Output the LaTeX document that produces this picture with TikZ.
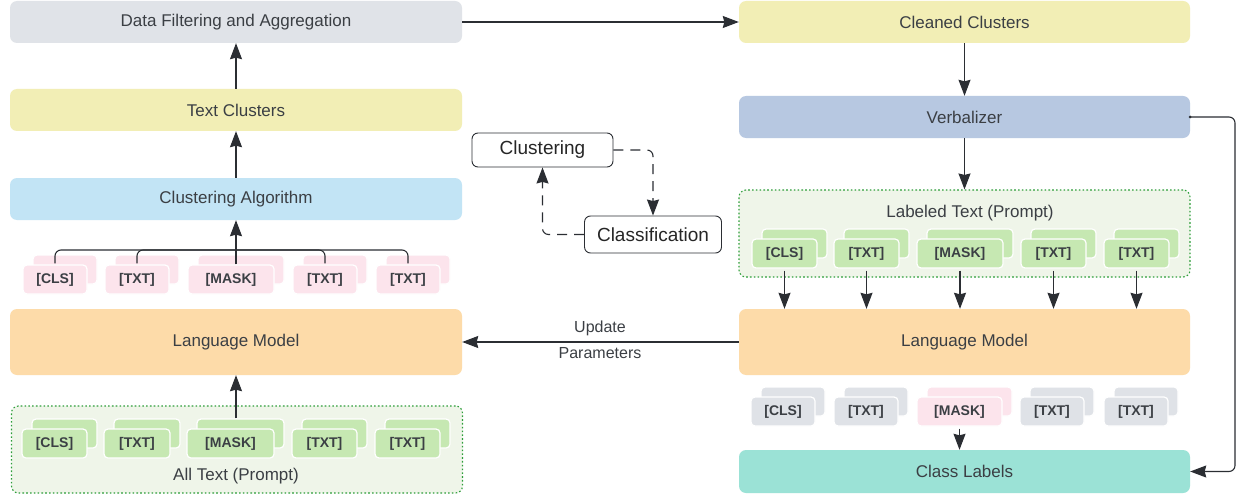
\documentclass[tikz,border=0pt]{standalone}
\usepackage{fontspec}
\setmainfont{Liberation Sans}
\usetikzlibrary{arrows.meta,calc}
\definecolor{txtc}{HTML}{3B3F44}
\definecolor{linec}{HTML}{2B2E33}
\definecolor{grayf}{HTML}{E0E3E8}
\definecolor{yellowf}{HTML}{F2EEB5}
\definecolor{bluef}{HTML}{B7C8E1}
\definecolor{lbluef}{HTML}{C2E4F5}
\definecolor{orangef}{HTML}{FDDBA9}
\definecolor{tealf}{HTML}{9BE2D6}
\definecolor{contf}{HTML}{EFF5E9}
\definecolor{contb}{HTML}{2E9E3A}
\definecolor{greenf}{HTML}{C6E8B2}
\definecolor{pinkf}{HTML}{FCE4EC}
\definecolor{tgrayf}{HTML}{DFE2E7}
\newcommand\tokpair[6]{%
  \node[tokb, fill=#5, minimum width=#4pt] (#1b) at ({#2+10+#4/2},{#3-10+14.5}) {};
  \node[tokf, fill=#5, minimum width=#4pt] (#1) at ({#2+#4/2},{#3+14.5}) {#6};
}
\begin{document}
\begin{tikzpicture}[x=1pt,y=-1pt,
  box/.style={rounded corners=7pt, inner sep=0pt, minimum width=452pt, minimum height=42pt,
    text=txtc, font=\fontsize{17}{20}\selectfont},
  cont/.style={rounded corners=7pt, inner sep=0pt, minimum width=451pt, minimum height=87pt,
    fill=contf, draw=contb, line width=1.1pt, dash pattern=on 1.6pt off 2.2pt},
  tokb/.style={rounded corners=4pt, inner sep=0pt, minimum height=29pt, draw=white, line width=1.2pt},
  tokf/.style={rounded corners=4pt, inner sep=0pt, minimum height=29pt, draw=white, line width=1.2pt,
    text=txtc, font=\bfseries\fontsize{14}{16}\selectfont},
  wbox/.style={rounded corners=6pt, draw=linec, line width=0.9pt, fill=white, inner sep=0pt,
    text=black!85, font=\fontsize{19}{22}\selectfont},
  conn/.style={draw=linec, line width=1.1pt},
  arr/.style={conn, -{Stealth[length=16pt,width=12pt,inset=1.5pt]}},
  plain/.style={text=txtc, font=\fontsize{17}{20}\selectfont, inner sep=0pt}
]
\useasboundingbox (0,0) rectangle (1244,500);
\fill[white] (0,0) rectangle (1244,500);

% left column
\node[box, fill=grayf] (df) at (236,22) {Data Filtering and Aggregation};
\node[box, fill=yellowf] (tc) at (236,110) {Text Clusters};
\node[box, fill=lbluef] (ca) at (236,199) {Clustering Algorithm};
\node[box, fill=orangef, minimum height=66pt] (lmL) at (236,342) {Language Model};
\node[cont] (allc) at (237,449.5) {};
\node[plain] (allt) at (236,476) {All Text (Prompt)};

% right column
\node[box, fill=yellowf, minimum width=451pt] (cc) at (964.5,22) {Cleaned Clusters};
\node[box, fill=bluef, minimum width=451pt] (vb) at (964.5,117) {Verbalizer};
\node[cont] (labc) at (964.5,233.5) {};
\node[plain] (labt) at (970,213) {Labeled Text (Prompt)};
\node[box, fill=orangef, minimum width=451pt, minimum height=66pt] (lmR) at (964.5,342) {Language Model};
\node[box, fill=tealf, minimum width=451pt, minimum height=43pt] (cl) at (964.5,471.5) {Class Labels};

% middle
\node[wbox, minimum width=141pt, minimum height=34pt] (clu) at (542.5,150) {Clustering};
\node[wbox, minimum width=137pt, minimum height=37pt] (cls) at (653,234.5) {Classification};

% tokens left pink
\tokpair{p1}{23}{265}{64}{pinkf}{[CLS]}
\tokpair{p2}{105}{265}{64}{pinkf}{[TXT]}
\tokpair{p3}{188}{265}{86}{pinkf}{[MASK]}
\tokpair{p4}{293}{265}{64}{pinkf}{[TXT]}
\tokpair{p5}{376}{265}{64}{pinkf}{[TXT]}
% tokens left green
\tokpair{g1}{22}{429}{65}{greenf}{[CLS]}
\tokpair{g2}{104}{429}{66}{greenf}{[TXT]}
\tokpair{g3}{187}{429}{87}{greenf}{[MASK]}
\tokpair{g4}{292}{429}{65}{greenf}{[TXT]}
\tokpair{g5}{375}{429}{65}{greenf}{[TXT]}
% tokens right green
\tokpair{r1}{752}{239}{65}{greenf}{[CLS]}
\tokpair{r2}{834}{239}{65}{greenf}{[TXT]}
\tokpair{r3}{917}{239}{86}{greenf}{[MASK]}
\tokpair{r4}{1021}{239}{65}{greenf}{[TXT]}
\tokpair{r5}{1104}{239}{65}{greenf}{[TXT]}
% tokens right gray
\tokpair{q1}{751}{397}{64}{tgrayf}{[CLS]}
\tokpair{q2}{834}{397}{64}{tgrayf}{[TXT]}
\tokpair{q3}{917}{397}{85}{pinkf}{[MASK]}
\tokpair{q4}{1020}{397}{64}{tgrayf}{[TXT]}
\tokpair{q5}{1104}{397}{64}{tgrayf}{[TXT]}

% left connectors
\draw[arr] (tc.north) -- (df.south);
\draw[arr] (ca.north) -- (tc.south);
\coordinate (hub) at (236,250);
\foreach \t in {p1,p2,p4,p5}{
  \draw[conn, rounded corners=6pt] ($(\t.north)+(0,-1)$) |- (hub);
}
\draw[arr] (ca.south |- p3.north) -- (ca.south);
\draw[arr] (lmL.south |- g3b.north) -- (lmL.south);

% top connector
\draw[arr] (df.east) -- (cc.west);
\draw[arr] (cc.south) -- (vb.north);
\draw[arr] (vb.south) -- (labc.north);
\foreach \t in {r1,r2,r3,r4,r5}{
  \draw[arr] ($(\t.south)+(0,2)$) -- (\t.south |- lmR.north);
}
\draw[arr] ($(q3.south)+(0,2)$) -- (q3.south |- cl.north);
\coordinate (rt) at (1235,117);
\draw[arr, rounded corners=6pt] (vb.east) -- (rt) |- (cl.east);
\fill[linec] (vb.east) circle (1.5pt);

% update parameters
\draw[arr] (lmR.west) -- (lmL.east);
\node[plain, font=\fontsize{16}{19}\selectfont] (up) at (600,328) {Update};
\node[plain, font=\fontsize{16}{19}\selectfont] (pa) at (600,353) {Parameters};

% dashed cycle
\draw[arr, dash pattern=on 10pt off 7pt, rounded corners=6pt] (clu.east) -| (cls.north);
\draw[arr, dash pattern=on 10pt off 7pt, rounded corners=6pt] (cls.west) -| (clu.south);
\end{tikzpicture}
\end{document}
